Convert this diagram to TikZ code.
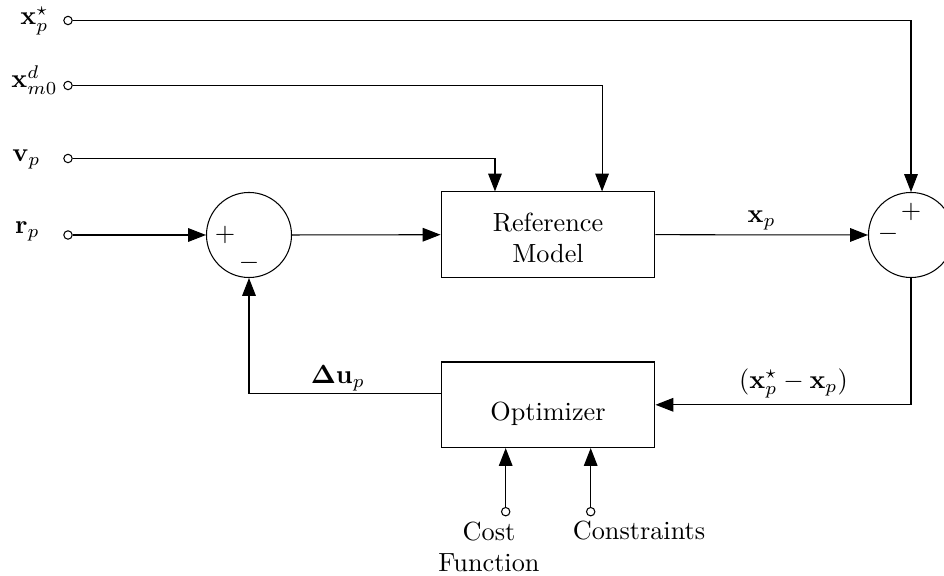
\documentclass[tikz,border=0pt]{standalone}
\usetikzlibrary{arrows.meta}
\begin{document}
\begin{tikzpicture}[x=0.381pt,y=-0.381pt,
  line width=0.4pt,
  sig/.style={-{Triangle[length=6.8pt,width=5.2pt]}},
  port/.style={circle,draw,fill=white,inner sep=0pt,minimum size=3.2pt},
  sumnode/.style={circle,draw,inner sep=0pt,minimum size=32.4pt},
  block/.style={rectangle,draw,align=center,minimum width=81.5pt,minimum height=32.6pt,inner sep=0pt},
  lbl/.style={inner sep=0pt}]
\useasboundingbox (0,0) rectangle (944,576);
\clip (0,0) rectangle (944,576);

% summing junctions and blocks
\node[sumnode] (s1) at (249,235) {};
\node[sumnode] (s2) at (911,235) {};
\node[block] (ref) at (548,234.7) {\rule{0pt}{9.6pt}Reference\\Model};
\node[block,text height=13.7pt,text depth=1.94pt] (opt) at (548,404.8) {Optimizer};

% signs on the junctions
\node[lbl] (s1p) at (225,235) {$+$};
\node[lbl] (s1m) at (249,262.7) {$-$};
\node[lbl] (s2p) at (911,212) {$+$};
\node[lbl] (s2m) at (888,234) {$-$};

% input ports
\node[port] (ixs) at (68,20.5) {};
\node[port] (ixm) at (68,85.5) {};
\node[port] (iv) at (68,158.5) {};
\node[port] (ir) at (68,235) {};
\node[port] (icf) at (505.7,511.7) {};
\node[port] (icn) at (590.7,511.7) {};

% port labels
\node[lbl,anchor=base] (lxs) at (34.5,25) {$\mathbf{x}_p^\star$};
\node[lbl,anchor=base] (lxm) at (34.5,88) {$\mathbf{x}_{m0}^d$};
\node[lbl,anchor=base] (lv) at (26.5,162) {$\mathbf{v}_p$};
\node[lbl,anchor=base] (lr) at (27.5,233.5) {$\mathbf{r}_p$};
\node[lbl,align=center,anchor=base] (lcf) at (489,572) {Cost\\Function};
\node[lbl,anchor=base] (lcn) at (639,540) {Constraints};

% signal flow
\draw[sig] (ixs) -| (s2.north);
\draw[sig] (ixm) -| ([xshift=20.6pt]ref.north);
\draw[sig] (iv) -| ([xshift=-20.2pt]ref.north);
\draw[sig] (ir) -- (s1.west);
\draw[sig] (s1.east) -- (ref.west);
\draw[sig] (ref.east) -- node[lbl,above=1.8pt] {$\mathbf{x}_p$} (s2.west);
\draw[sig] (s2.south) |- node[lbl,pos=0.73,above=2.2pt] {$(\mathbf{x}_p^\star-\mathbf{x}_p)$} (opt.east);
\draw[sig] ([yshift=4.4pt]opt.west) -| node[lbl,pos=0.268,above=0.6pt] {$\mathbf{\Delta u}_p$} (s1.south);
\draw[sig] (icf) -- (icf |- opt.south);
\draw[sig] (icn) -- (icn |- opt.south);
\end{tikzpicture}
\end{document}
